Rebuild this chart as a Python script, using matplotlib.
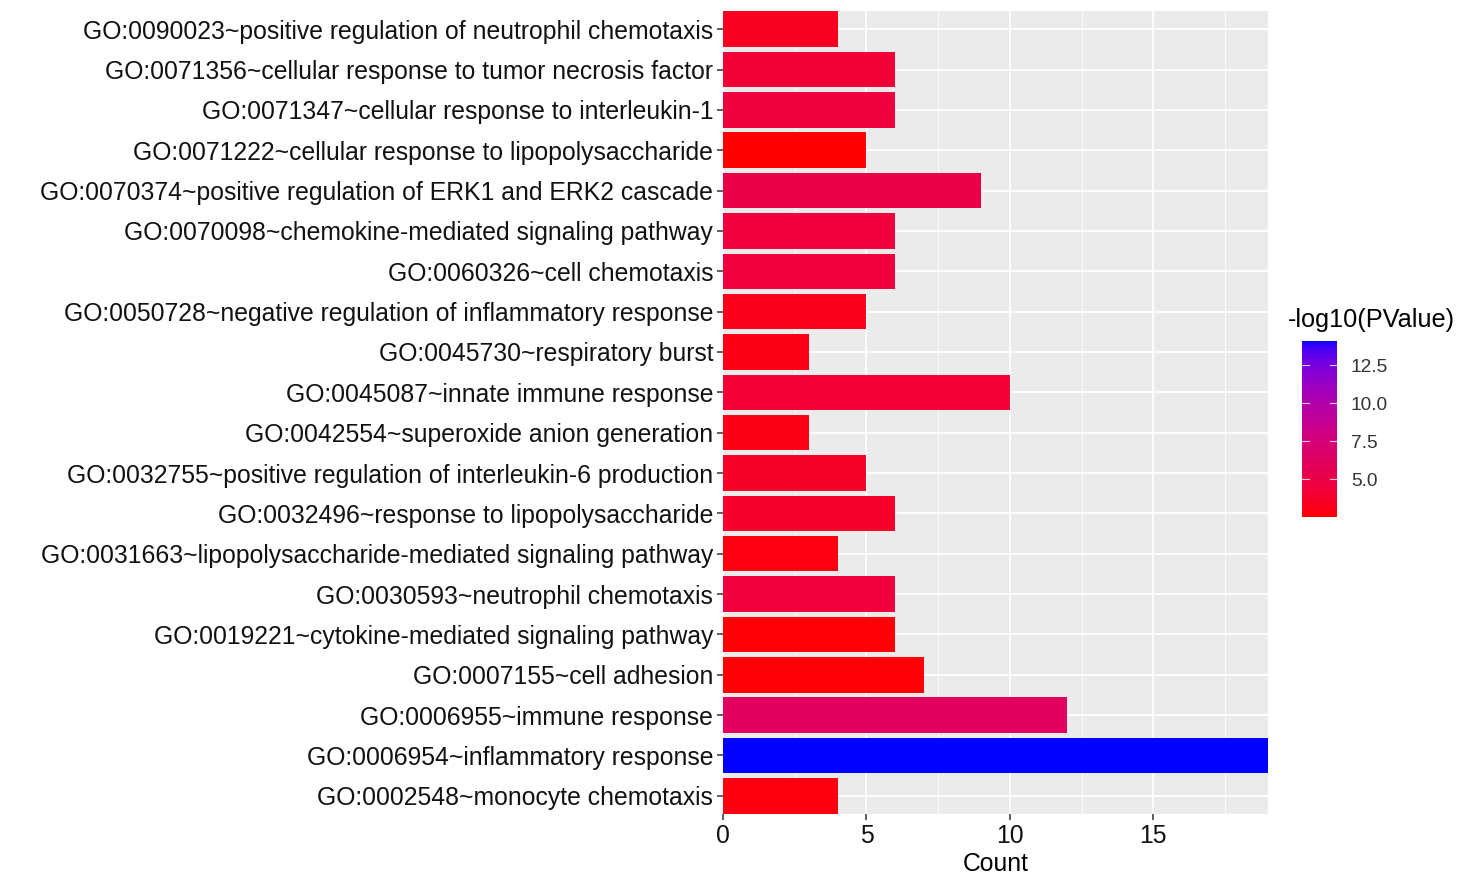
import numpy as np
import matplotlib.pyplot as plt
from matplotlib.colors import ListedColormap, Normalize
from matplotlib.colorbar import ColorbarBase

plt.rcParams['font.family'] = ['Liberation Sans', 'DejaVu Sans']

# GO terms, top to bottom as shown
terms = [
    "GO:0090023~positive regulation of neutrophil chemotaxis",
    "GO:0071356~cellular response to tumor necrosis factor",
    "GO:0071347~cellular response to interleukin-1",
    "GO:0071222~cellular response to lipopolysaccharide",
    "GO:0070374~positive regulation of ERK1 and ERK2 cascade",
    "GO:0070098~chemokine-mediated signaling pathway",
    "GO:0060326~cell chemotaxis",
    "GO:0050728~negative regulation of inflammatory response",
    "GO:0045730~respiratory burst",
    "GO:0045087~innate immune response",
    "GO:0042554~superoxide anion generation",
    "GO:0032755~positive regulation of interleukin-6 production",
    "GO:0032496~response to lipopolysaccharide",
    "GO:0031663~lipopolysaccharide-mediated signaling pathway",
    "GO:0030593~neutrophil chemotaxis",
    "GO:0019221~cytokine-mediated signaling pathway",
    "GO:0007155~cell adhesion",
    "GO:0006955~immune response",
    "GO:0006954~inflammatory response",
    "GO:0002548~monocyte chemotaxis",
]
counts = [4, 6, 6, 5, 9, 6, 6, 5, 3, 10, 3, 5, 6, 4, 6, 6, 7, 12, 19, 4]
neglog_p = [3.3, 4.3, 4.6, 2.5, 5.0, 4.5, 4.5, 3.2, 3.0, 4.2,
            3.0, 3.6, 3.7, 2.9, 4.5, 2.6, 2.6, 6.2, 14.1, 2.8]


# red -> blue gradient interpolated in Lab space, like ggplot's scale_fill_gradient
def srgb_to_lab(rgb):
    rgb = np.asarray(rgb, float)
    lin = np.where(rgb <= 0.04045, rgb / 12.92, ((rgb + 0.055) / 1.055) ** 2.4)
    m = np.array([[0.4124, 0.3576, 0.1805],
                  [0.2126, 0.7152, 0.0722],
                  [0.0193, 0.1192, 0.9505]])
    xyz = m @ lin / np.array([0.95047, 1.0, 1.08883])
    f = np.where(xyz > 0.008856, np.cbrt(xyz), 7.787 * xyz + 16 / 116)
    return np.array([116 * f[1] - 16, 500 * (f[0] - f[1]), 200 * (f[1] - f[2])])


def lab_to_srgb(lab):
    L, a, b = lab
    fy = (L + 16) / 116
    fx = fy + a / 500
    fz = fy - b / 200
    f = np.array([fx, fy, fz])
    xyz = np.where(f ** 3 > 0.008856, f ** 3, (f - 16 / 116) / 7.787)
    xyz = xyz * np.array([0.95047, 1.0, 1.08883])
    minv = np.array([[3.2406, -1.5372, -0.4986],
                     [-0.9689, 1.8758, 0.0415],
                     [0.0557, -0.2040, 1.0570]])
    lin = minv @ xyz
    lin = np.clip(lin, 0, 1)
    rgb = np.where(lin <= 0.0031308, 12.92 * lin,
                   1.055 * lin ** (1 / 2.4) - 0.055)
    return np.clip(rgb, 0, 1)


lab_lo = srgb_to_lab([1, 0, 0])
lab_hi = srgb_to_lab([0, 0, 1])
cmap = ListedColormap([lab_to_srgb(lab_lo + t * (lab_hi - lab_lo))
                       for t in np.linspace(0, 1, 256)])
norm = Normalize(vmin=min(neglog_p), vmax=max(neglog_p))

fig = plt.figure(figsize=(14.76, 8.86), dpi=100)
ax = fig.add_axes([723 / 1476, 72 / 886, 545 / 1476, 803 / 886])

n = len(terms)
ypos = np.arange(n)[::-1]
ax.set_facecolor('#EBEBEB')
ax.set_axisbelow(True)
ax.barh(ypos, counts, height=0.88, color=cmap(norm(neglog_p)), zorder=3)

ax.set_xlim(0, 19)
ax.set_ylim(-0.45, n - 0.55)
ax.set_xticks([0, 5, 10, 15])
ax.set_xticks([2.5, 7.5, 12.5, 17.5], minor=True)
ax.set_yticks(ypos)
ax.set_yticklabels(terms)
ax.grid(which='major', color='white', linewidth=1.3)
ax.grid(which='minor', axis='x', color='white', linewidth=0.6)
ax.tick_params(which='major', length=4, width=1.1, color='#333333',
               labelsize=17.8, labelcolor='#111111', pad=3)
ax.tick_params(which='minor', length=0)
for s in ax.spines.values():
    s.set_visible(False)
ax.set_xlabel('Count', fontsize=17.8, labelpad=3)

# colour bar legend
cax = fig.add_axes([1302 / 1476, (886 - 517) / 886, 35 / 1476, 176 / 886])
cb = ColorbarBase(cax, cmap=cmap, norm=norm, orientation='vertical')
cb.outline.set_visible(False)
cb.set_ticks([5.0, 7.5, 10.0, 12.5])
cb.set_ticklabels(['5.0', '7.5', '10.0', '12.5'])
cax.tick_params(length=0, labelsize=13.8, labelcolor='#333333', pad=10)
for t in [5.0, 7.5, 10.0, 12.5]:
    cax.plot([0, 0.2], [t, t], color='white', lw=0.8, alpha=0.8)
    cax.plot([0.8, 1.0], [t, t], color='white', lw=0.8, alpha=0.8)
fig.text(1288 / 1476, (886 - 320) / 886, '-log10(PValue)', fontsize=18.2,
         va='center', ha='left')

fig.savefig('out.png', dpi=100)
